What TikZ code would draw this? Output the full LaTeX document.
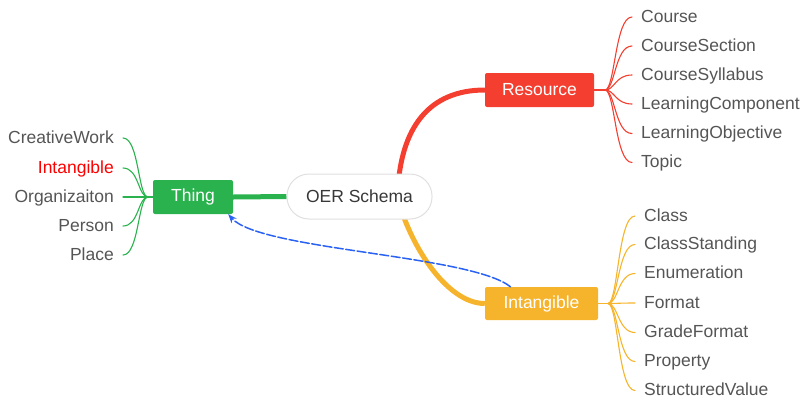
\documentclass[tikz,border=0pt]{standalone}
\usepackage{fontspec}
\setmainfont{Liberation Sans}
\usetikzlibrary{backgrounds,arrows.meta}
\definecolor{thinggreen}{HTML}{29B24D}
\definecolor{resred}{HTML}{F43F30}
\definecolor{intyellow}{HTML}{F6B42C}
\definecolor{linkblue}{HTML}{2A62F4}
\definecolor{leafgray}{HTML}{555555}
\begin{document}
\begin{tikzpicture}[x=1pt, y=-1pt, font=\fontsize{17.5}{20}\selectfont, line join=round, line cap=round, >={Stealth[length=9pt,width=7pt]},
		topic/.style={rounded corners=2pt, text=white, minimum height=34pt, inner sep=0pt},
		leaf/.style={text=leafgray, inner xsep=9pt, inner ysep=0pt, text height=1em, text depth=0pt},
		twig/.style={line width=1.1pt}]
			\useasboundingbox (0,0) rectangle (803,400);
			% centre and main topics
			\node[draw=black!12, line width=1pt, fill=white, rounded corners=22pt, minimum width=145pt, minimum height=45pt, text=black!78] (oer) at (359.5,196.5) {OER Schema};
			\node[topic, fill=thinggreen, minimum width=80pt] (thing) at (193,197) {Thing};
			\node[topic, fill=resred, minimum width=109pt] (res) at (539.5,90) {Resource};
			\node[topic, fill=intyellow, minimum width=113pt, minimum height=33pt] (intb) at (541.5,303.5) {Intangible};
			% leaves of Thing
			\node[leaf, anchor=east] (t1) at (123,138) {CreativeWork};
			\node[leaf, anchor=east, text=red] (t2) at (123,168) {Intangible};
			\node[leaf, anchor=east] (t3) at (123,197) {Organizaiton};
			\node[leaf, anchor=east] (t4) at (123,226) {Person};
			\node[leaf, anchor=east] (t5) at (123,255) {Place};
			% leaves of Resource
			\node[leaf, anchor=west] (r1) at (632,17) {Course};
			\node[leaf, anchor=west] (r2) at (632,46) {CourseSection};
			\node[leaf, anchor=west] (r3) at (632,75) {CourseSyllabus};
			\node[leaf, anchor=west] (r4) at (632,104) {LearningComponent};
			\node[leaf, anchor=west] (r5) at (632,133.5) {LearningObjective};
			\node[leaf, anchor=west] (r6) at (632,162.5) {Topic};
			% leaves of Intangible
			\node[leaf, anchor=west] (i1) at (635,216) {Class};
			\node[leaf, anchor=west] (i2) at (635,244.5) {ClassStanding};
			\node[leaf, anchor=west] (i3) at (635,273.5) {Enumeration};
			\node[leaf, anchor=west] (i4) at (635,303) {Format};
			\node[leaf, anchor=west] (i5) at (635,332.5) {GradeFormat};
			\node[leaf, anchor=west] (i6) at (635,361.5) {Property};
			\node[leaf, anchor=west] (i7) at (635,390.5) {StructuredValue};
			\coordinate (tfan) at (148,197);
			\coordinate (rfan) at (605,90);
			\coordinate (ifan) at (608,303.5);
			\begin{scope}[on background layer]
				\draw[thinggreen, line width=5pt, line cap=butt] (thing.east) -- (oer.west);
				\draw[resred, line width=5pt, line cap=butt] ([xshift=38pt]oer.center) .. controls +(2,-70) and +(-55,0) .. (res.west);
				\draw[intyellow, line width=5pt, line cap=butt] ([xshift=38pt]oer.center) .. controls +(10,43) and +(-40,0) .. (intb.west);
			\end{scope}
			\draw[twig, thinggreen] (thing.west) -- (tfan);
			\foreach \n in {t1,t2,t3,t4,t5}
				\draw[twig, thinggreen] (tfan) .. controls +(-10,0) and +(16,0) .. (\n.east);
			\draw[twig, resred] (res.east) -- (rfan);
			\foreach \n in {r1,r2,r3,r4,r5,r6}
				\draw[twig, resred] (rfan) .. controls +(10,0) and +(-17,0) .. (\n.west);
			\draw[twig, intyellow] (intb.east) -- (ifan);
			\foreach \n in {i1,i2,i3,i4,i5,i6,i7}
				\draw[twig, intyellow] (ifan) .. controls +(10,0) and +(-17,0) .. (\n.west);
			% link
			\draw[->, linkblue, line width=1.5pt, dash pattern=on 9pt off 2.5pt] ([xshift=-31pt]intb.north) .. controls +(-40,-32) and +(32,36) .. ([xshift=-5pt]thing.south east);
		\end{tikzpicture}
\end{document}
